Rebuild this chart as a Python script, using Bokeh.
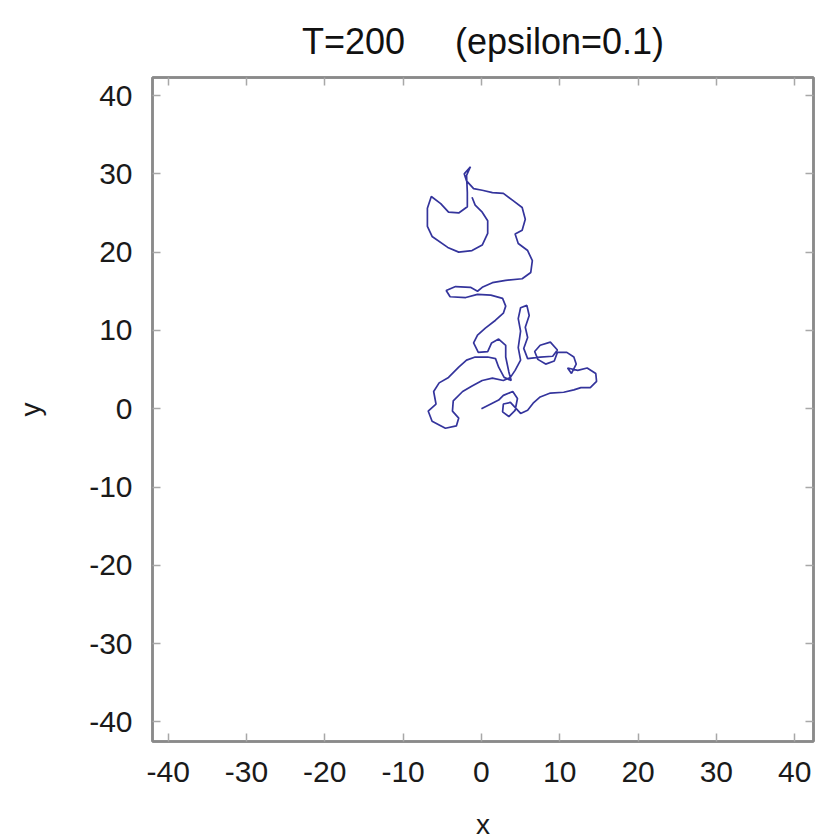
from bokeh.plotting import figure
from bokeh.models import Range1d, LinearAxis, FixedTicker
from bokeh.embed import file_html
from bokeh.resources import INLINE

# Data (path of the walk)
path_x = [0.0, 1.2, 2.2, 2.8, 4.0, 4.6, 4.3, 3.5, 2.7, 2.8, 3.7,
          5.0, 5.9, 6.6, 7.5, 8.8, 10.5, 11.8, 12.7, 13.9, 14.7, 14.6,
          13.5, 12.3, 11.0, 11.5, 12.1, 11.8, 10.9, 9.7, 9.3, 8.2, 7.2,
          6.8, 7.5, 8.8, 9.7, 9.1, 7.5, 5.9, 5.4, 5.9, 5.6, 6.1, 5.8,
          5.0, 4.7, 5.0, 4.7, 5.0, 4.3, 3.7, 2.8, 1.4, 0.1, -1.2, -2.4,
          -3.6, -3.7, -2.9, -3.2, -4.6, -6.3, -6.8, -5.8, -6.1, -5.4,
          -4.2, -2.9, -1.9, -0.8, 0.8, 1.8, 2.2, 2.9, 3.8, 3.5, 3.1, 3.1,
          2.2, 1.3, 0.8, -0.4, -1.0, -0.5, 0.5, 1.8, 2.8, 3.1, 2.7, 1.2,
          -0.5, -2.0, -4.0, -4.5, -3.3, -1.4, -0.5, 0.1, 1.4, 3.1, 5.2,
          6.3, 6.5, 5.9, 4.7, 4.3, 5.2, 5.6, 5.2, 4.0, 2.8, 1.4, 0.1,
          -1.0, -1.9, -2.2, -1.4, -1.9, -1.8, -1.8, -2.9, -4.2, -5.2,
          -6.4, -6.9, -6.9, -6.3, -4.3, -2.9, -1.2, 0.1, 0.8, 0.8, 0.1,
          -0.8, -1.2]
path_y = [0.0, 0.6, 1.1, 1.7, 2.2, 1.3, -0.2, -1.0, -0.4, 0.6, 0.8,
          -0.6, -0.2, 0.7, 1.5, 2.0, 2.1, 2.4, 2.7, 2.7, 3.5, 4.5,
          5.2, 4.9, 5.2, 4.5, 5.7, 6.6, 7.2, 7.2, 6.1, 5.7, 6.3,
          7.3, 8.1, 8.5, 7.5, 6.7, 6.6, 6.4, 7.7, 9.1, 10.4, 11.9, 13.2,
          12.9, 11.5, 9.9, 7.8, 6.2, 4.9, 4.0, 3.6, 3.9, 3.6, 2.9, 2.2,
          1.0, -0.3, -1.2, -2.2, -2.5, -1.6, -0.3, 0.6, 2.2, 3.3,
          4.0, 5.3, 6.2, 6.6, 6.6, 6.4, 5.3, 4.0, 3.6, 4.7, 6.6, 8.1,
          8.9, 8.4, 7.3, 7.2, 8.4, 9.4, 10.3, 11.3, 12.2, 13.1, 14.1, 14.5,
          14.6, 14.2, 14.3, 15.1, 15.6, 15.5, 15.0, 15.5, 16.1, 16.4, 16.6,
          17.4, 18.9, 20.2, 21.1, 22.3, 22.8, 24.2, 25.7, 26.6, 27.5, 27.6, 27.9,
          28.1, 29.1, 30.0, 30.9, 29.8, 27.6, 25.8, 25.0, 25.1, 26.2,
          27.1, 25.6, 23.3, 22.0, 20.6, 20.0, 20.2, 20.9, 22.4, 24.0, 25.1,
          26.0, 27.0]

x_ticks = [-40, -30, -20, -10, 0, 10, 20, 30, 40]
x_tick_labels = ["-40", "-30", "-20", "-10", "0", "10", "20", "30", "40"]
y_ticks = [-40, -30, -20, -10, 0, 10, 20, 30, 40]
y_tick_labels = ["-40", "-30", "-20", "-10", "0", "10", "20", "30", "40"]

title_text = "T=200\u00a0\u00a0\u00a0\u00a0\u00a0(epsilon=0.1)"

FONT = "Liberation Sans"
FRAME_GRAY = "#8a8a8a"
TICK_GRAY = "#a8a8a8"

p = figure(frame_width=661, frame_height=664,
           min_border_left=152, min_border_right=3,
           min_border_top=77, min_border_bottom=99,
           x_range=Range1d(-42.0, 42.4), y_range=Range1d(-42.5, 42.3),
           output_backend="svg", toolbar_location=None,
           title=title_text,
           x_axis_label="x", y_axis_label="y")

p.background_fill_color = "white"
p.border_fill_color = "white"
p.outline_line_color = FRAME_GRAY
p.outline_line_width = 2.5
p.grid.visible = False

p.title.align = "center"
p.title.text_font = FONT
p.title.text_font_size = "36px"
p.title.text_font_style = "normal"
p.title.text_color = "#111111"
p.title.standoff = 31

for ax, ticks, labels in ((p.xaxis[0], x_ticks, x_tick_labels),
                          (p.yaxis[0], y_ticks, y_tick_labels)):
    ax.ticker = FixedTicker(ticks=ticks)
    ax.major_label_overrides = dict(zip(ticks, labels))
    ax.major_tick_in = 8
    ax.major_tick_out = 0
    ax.major_tick_line_color = TICK_GRAY
    ax.major_tick_line_width = 1.5
    ax.minor_tick_line_color = None
    ax.axis_line_color = FRAME_GRAY
    ax.axis_line_width = 2.5
    ax.major_label_text_font = FONT
    ax.major_label_text_font_size = "30px"
    ax.major_label_text_color = "#1a1a1a"
    ax.axis_label_text_font = FONT
    ax.axis_label_text_font_size = "28px"
    ax.axis_label_text_font_style = "normal"
    ax.axis_label_text_color = "#1a1a1a"

p.xaxis[0].major_label_standoff = 20
p.xaxis[0].axis_label_standoff = 24
p.yaxis[0].major_label_standoff = 20
p.yaxis[0].axis_label_standoff = 40

for loc, ticks in (("above", x_ticks), ("right", y_ticks)):
    ax = LinearAxis(ticker=FixedTicker(ticks=ticks),
                    major_tick_in=8, major_tick_out=0,
                    major_tick_line_color=TICK_GRAY, major_tick_line_width=1.5,
                    minor_tick_line_color=None,
                    axis_line_color=FRAME_GRAY, axis_line_width=2.5,
                    major_label_text_font_size="1px",
                    major_label_overrides={t: "" for t in ticks},
                    major_label_standoff=0)
    p.add_layout(ax, loc)

p.line(path_x, path_y, line_color="#34349c", line_width=1.7)

open("out.html", "w").write(file_html(p, INLINE))
